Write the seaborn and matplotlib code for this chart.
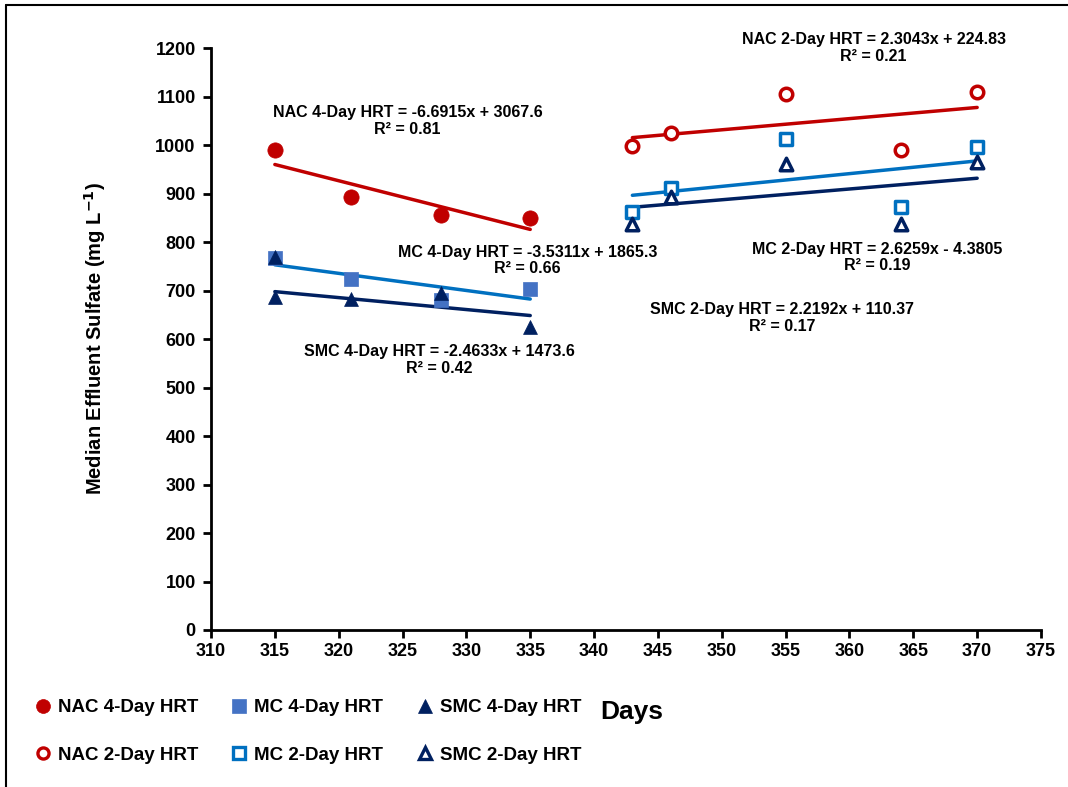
import numpy as np
import pandas as pd
import matplotlib
matplotlib.use('Agg')
import matplotlib.pyplot as plt
import seaborn as sns
from matplotlib.lines import Line2D

# --- data ---
days_4d = [315, 321, 328, 335]
nac_4d = [990, 892, 855, 850]
mc_4d = [767, 723, 680, 704]
smc_4d = [686, 683, 695, 625]
smc_4d_extra_day = [315]
smc_4d_extra = [770]

days_2d = [343, 346, 355, 364, 370]
nac_2d = [997, 1024, 1105, 990, 1110]
mc_2d = [862, 911, 1013, 873, 995]
smc_2d = [838, 892, 960, 838, 964]

# trendline equations as printed on the chart (slope, intercept, R2)
fits = {
    'NAC 4-Day HRT': (-6.6915, 3067.6, 0.81),
    'MC 4-Day HRT': (-3.5311, 1865.3, 0.66),
    'SMC 4-Day HRT': (-2.4633, 1473.6, 0.42),
    'NAC 2-Day HRT': (2.3043, 224.83, 0.21),
    'MC 2-Day HRT': (2.6259, -4.3805, 0.19),
    'SMC 2-Day HRT': (2.2192, 110.37, 0.17),
}

RED = '#C00000'
BLUE4 = '#4472C4'
BLUE2 = '#0070C0'
NAVY = '#002060'

sns.set_style('white')
plt.rcParams['font.family'] = ['Liberation Sans', 'DejaVu Sans']
plt.rcParams['font.weight'] = 'bold'
plt.rcParams['mathtext.default'] = 'bf'
for k in ['text.color', 'axes.labelcolor', 'xtick.color', 'ytick.color']:
    plt.rcParams[k] = 'black'

W, H = 1068, 787
fig = plt.figure(figsize=(W / 100, H / 100), dpi=100)
ax = fig.add_axes([211 / W, 1 - 630 / H, (1041 - 211) / W, (630 - 48) / H])

series = [
    ('NAC 4-Day HRT', days_4d, nac_4d, 'o', RED, RED, RED, 11),
    ('NAC 2-Day HRT', days_2d, nac_2d, 'o', 'white', RED, RED, 9),
    ('MC 4-Day HRT', days_4d, mc_4d, 's', BLUE4, BLUE4, BLUE2, 10),
    ('MC 2-Day HRT', days_2d, mc_2d, 's', 'white', BLUE2, BLUE2, 9),
    ('SMC 4-Day HRT', days_4d, smc_4d, '^', NAVY, NAVY, NAVY, 10),
    ('SMC 2-Day HRT', days_2d, smc_2d, '^', 'white', NAVY, NAVY, 9),
]

for name, x, y, mk, fc, ec, lc, ms in series:
    df = pd.DataFrame({'day': x, 'val': y})
    slope, icpt, r2 = fits[name]
    xs = np.array([min(x), max(x)])
    ax.plot(xs, slope * xs + icpt, color=lc, lw=2.5, zorder=2)
    sns.scatterplot(data=df, x='day', y='val', marker=mk, s=ms ** 2,
                    facecolor=fc, edgecolor=ec, linewidth=2.5 if fc == 'white' else 0.5,
                    ax=ax, zorder=3)

sns.scatterplot(x=smc_4d_extra_day, y=smc_4d_extra, marker='^', s=100,
                facecolor=NAVY, edgecolor=NAVY, linewidth=0.5, ax=ax, zorder=4)

# equation labels
label_pos = {
    'NAC 4-Day HRT': (325.4, 1050),
    'MC 4-Day HRT': (334.8, 762),
    'SMC 4-Day HRT': (327.9, 557),
    'NAC 2-Day HRT': (361.9, 1200),
    'MC 2-Day HRT': (362.2, 768),
    'SMC 2-Day HRT': (354.7, 643),
}
for name, (lx, ly) in label_pos.items():
    slope, icpt, r2 = fits[name]
    sign = '+' if icpt >= 0 else '-'
    txt = f'{name} = {slope:g}x {sign} {abs(icpt):g}\nR² = {r2:.2f}'
    ax.text(lx, ly, txt, ha='center', va='center', fontsize=11.5,
            fontweight='bold', linespacing=1.15, clip_on=False)

ax.set_xlim(310, 375)
ax.set_ylim(0, 1200)
ax.set_xticks(range(310, 376, 5))
ax.set_yticks(range(0, 1201, 100))
ax.tick_params(axis='both', which='major', direction='out', length=6, width=2,
               labelsize=13, color='black', bottom=True, left=True)
ax.tick_params(axis='y', pad=5)
for lab in ax.get_xticklabels() + ax.get_yticklabels():
    lab.set_fontweight('bold')
sns.despine(ax=ax)
for s in ['left', 'bottom']:
    ax.spines[s].set_linewidth(2)
    ax.spines[s].set_color('black')
ax.set_xlabel('')
ax.set_ylabel('Median Effluent Sulfate (mg L$^{-1}$)', fontsize=14.5, fontweight='bold')
ax.yaxis.set_label_coords((108 - 211) / 830, 0.5)

fig.text(632 / W, 1 - 712 / H, 'Days', fontsize=19, fontweight='bold',
         ha='center', va='center')

handles = []
for name, x, y, mk, fc, ec, lc, ms in series:
    handles.append(Line2D([], [], ls='none', marker=mk, markersize=10 if fc != 'white' else 8,
                          markerfacecolor=fc, markeredgecolor=ec,
                          markeredgewidth=2.4 if fc == 'white' else 0.5, label=name))
fig.legend(handles=handles, ncol=3, loc='upper left',
           bbox_to_anchor=(24 / W, 1 - 690 / H), frameon=False, borderpad=0,
           prop={'weight': 'bold', 'size': 13.5}, handletextpad=0.3,
           columnspacing=1.7, labelspacing=1.6, handlelength=1.0)

# figure frame (top and left edges visible in reference)
fig.add_artist(Line2D([6 / W, 6 / W], [0, 1 - 5 / H], color='black', lw=1.5,
                      transform=fig.transFigure))
fig.add_artist(Line2D([6 / W, 1], [1 - 5 / H, 1 - 5 / H], color='black', lw=1.5,
                      transform=fig.transFigure))

fig.savefig('out.png', dpi=100)
